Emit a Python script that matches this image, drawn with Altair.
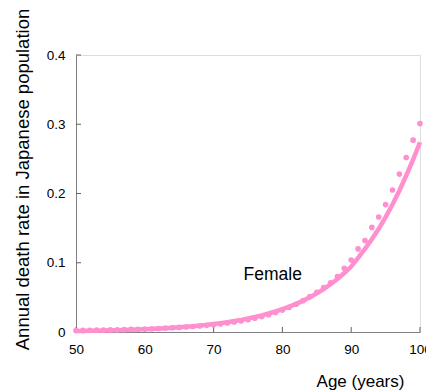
import altair as alt
import pandas as pd

ages = list(range(50, 101))
observed = [0.0021, 0.0023, 0.0024, 0.0026, 0.0028, 0.0030, 0.0032, 0.0034, 0.0037, 0.0040,
            0.0043, 0.0047, 0.0051, 0.0056, 0.0061, 0.0066, 0.0072, 0.0079, 0.0087, 0.0096,
            0.0106, 0.0117, 0.0130, 0.0144, 0.0160, 0.0178, 0.0199, 0.0223, 0.0250, 0.0281,
            0.0316, 0.0356, 0.0401, 0.0452, 0.0510, 0.0573, 0.0640, 0.0710, 0.0800, 0.0920,
            0.1040, 0.1200, 0.1320, 0.1510, 0.1660, 0.1840, 0.2050, 0.2280, 0.2520, 0.2770,
            0.3010]
fitted = [0.0014, 0.0016, 0.0017, 0.0019, 0.0021, 0.0024, 0.0026, 0.0029, 0.0032, 0.0036,
          0.0040, 0.0044, 0.0049, 0.0055, 0.0061, 0.0068, 0.0075, 0.0084, 0.0093, 0.0103,
          0.0115, 0.0128, 0.0142, 0.0158, 0.0175, 0.0195, 0.0216, 0.0240, 0.0267, 0.0297,
          0.0330, 0.0366, 0.0407, 0.0452, 0.0502, 0.0558, 0.0620, 0.0689, 0.0766, 0.0851,
          0.0945, 0.1070, 0.1200, 0.1340, 0.1490, 0.1660, 0.1840, 0.2040, 0.2260, 0.2490,
          0.2740]

x_ticks = [50, 60, 70, 80, 90, 100]
y_ticks = [0, 0.1, 0.2, 0.3, 0.4]

label_text = ["Female"]
label_age = [78.6]
label_rate = [0.082]

PINK = "#ff8fcf"
FONT = "Liberation Sans"

df = pd.DataFrame({"age": ages, "observed": observed, "fitted": fitted})
xt = pd.DataFrame({"t": x_ticks})
yt = pd.DataFrame({"t": y_ticks})
lab = pd.DataFrame({"text": label_text, "age": label_age, "rate": label_rate})

xscale = alt.Scale(domain=[50, 100], nice=False, zero=False)
yscale = alt.Scale(domain=[0, 0.4], nice=False)

xaxis = alt.Axis(values=x_ticks, title="Age (years)", ticks=False, tickSize=0, grid=False,
                 labelPadding=10, labelFontSize=13.5, labelColor="black", labelFont=FONT,
                 labelFlush=False, labelOverlap=False, labelBound=False,
                 domainColor="#808080", titleFont=FONT, titleFontSize=17, titleFontWeight="normal",
                 titleColor="black", titleX=284, titleY=49, titleAlign="center",
                 titleBaseline="middle", titleAnchor="start")
yaxis = alt.Axis(values=y_ticks, title="Annual death rate in Japanese population", ticks=False,
                 tickSize=0, grid=False, format="~g", labelPadding=11, labelFontSize=13.5,
                 labelFlush=False, labelOverlap=False, labelBound=False,
                 labelColor="black", labelFont=FONT, domainColor="#808080", titleFont=FONT,
                 titleFontSize=18.5, titleFontWeight="normal", titleColor="black",
                 titleX=-54, titleY=124, titleAlign="center", titleBaseline="middle",
                 titleAngle=270, titleAnchor="start")

base = alt.Chart(df)

line = base.mark_line(color=PINK, strokeWidth=4.5).encode(
    x=alt.X("age:Q", scale=xscale, axis=xaxis),
    y=alt.Y("fitted:Q", scale=yscale, axis=yaxis),
)
pts = base.mark_circle(color=PINK, size=32, opacity=1).encode(
    x=alt.X("age:Q", scale=xscale),
    y=alt.Y("observed:Q", scale=yscale),
)

xticks = alt.Chart(xt).mark_rule(color="#606060", strokeWidth=1).encode(
    x=alt.X("t:Q", scale=xscale),
    y=alt.value(277), y2=alt.value(272),
)
yticks = alt.Chart(yt).mark_rule(color="#606060", strokeWidth=1).encode(
    y=alt.Y("t:Q", scale=yscale),
    x=alt.value(0), x2=alt.value(5),
)

text = alt.Chart(lab).mark_text(font=FONT, fontSize=17.5, color="black").encode(
    x=alt.X("age:Q", scale=xscale),
    y=alt.Y("rate:Q", scale=yscale),
    text="text:N",
)

chart = alt.layer(xticks, yticks, line, pts, text).properties(
    width=344, height=277,
    padding={"left": 76, "top": 55, "right": 6, "bottom": 60},
    autosize=alt.AutoSizeParams(type="none"),
).configure_view(stroke=None).configure(background="white")

chart.save("out.html", embed_options={"renderer": "svg", "actions": False})
